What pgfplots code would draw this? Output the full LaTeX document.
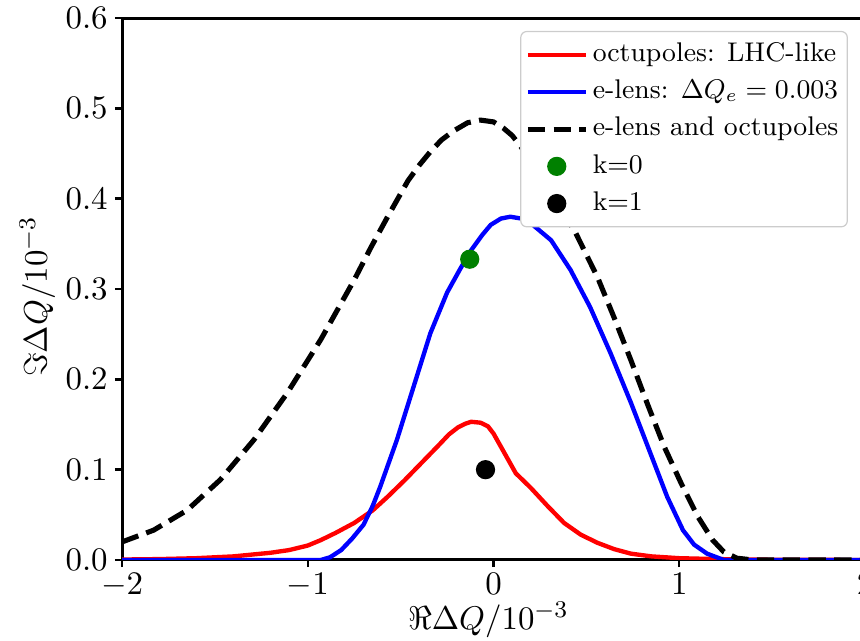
\documentclass[border=0pt]{standalone}
\usepackage{fontspec}
\usepackage{pgfplots}
\pgfplotsset{compat=1.18}
\definecolor{mplgreen}{HTML}{008000}
\begin{document}
\begin{tikzpicture}
\begin{axis}[
  at={(0,0)}, anchor=south west,
  scale only axis, width=247.67pt, height=180.67pt,
  xmin=-2, xmax=2, ymin=0, ymax=0.6,
  xtick={-2,-1,0,1,2},
  ytick={0,0.1,0.2,0.3,0.4,0.5,0.6},
  yticklabel style={/pgf/number format/.cd, fixed, fixed zerofill, precision=1, /tikz/.cd, inner xsep=2.2pt},
  xticklabel style={inner ysep=2pt},
  tick pos=left, tick align=outside, major tick length=2.4pt,
  tick style={black, line width=0.8pt},
  axis line style={line width=1pt},
  ticklabel style={font=\fontsize{10.6}{12.5}\selectfont},
  label style={font=\fontsize{10.8}{12.5}\selectfont},
  xlabel={$\Re\Delta Q/10^{-3}$},
  ylabel={$\Im\Delta Q/10^{-3}$},
  xlabel style={at={(axis description cs:0.493,-0.129)}, anchor=base},
  ylabel style={at={(axis description cs:-0.101,0.486)}, anchor=base},
  legend image code/.code={\draw[mark repeat=2,mark phase=2,#1] plot coordinates {(0pt,0pt) (9.65pt,0pt) (19.3pt,0pt)};},
  legend cell align=left,
  legend style={at={(1,1)}, anchor=north east, xshift=-5.7pt, yshift=-4.3pt,
    draw=black!20, rounded corners=2pt, fill=white,
    font=\fontsize{9}{10.5}\selectfont,
    inner xsep=1.5pt, inner ysep=2pt,
    nodes={inner sep=1.5pt, text height=6.5pt, text depth=2pt},
    row sep=0.9pt,
    /tikz/every even column/.append style={column sep=3.3pt}},
]
\addplot[red, line width=1.45pt] coordinates {
(-2.0,0.0005) (-1.8,0.001) (-1.6,0.002) (-1.4,0.004) (-1.2,0.008) (-1.1,0.011)
(-1.0,0.016) (-0.93,0.022) (-0.85,0.030) (-0.75,0.041) (-0.65,0.055) (-0.57,0.070)
(-0.48,0.088) (-0.39,0.107) (-0.30,0.126) (-0.24,0.139) (-0.19,0.147) (-0.15,0.151) (-0.12,0.153)
(-0.07,0.152) (-0.03,0.148) (0.0,0.140) (0.06,0.118) (0.12,0.096) (0.20,0.080)
(0.29,0.060) (0.38,0.041) (0.47,0.028) (0.56,0.019) (0.65,0.012) (0.74,0.007)
(0.85,0.004) (1.0,0.002) (1.2,0.001) (1.5,0.0003) (2.0,0.0)
};
\addlegendentry{octupoles: LHC-like}
\addplot[blue, line width=1.45pt] coordinates {
(-2.0,0) (-0.93,0) (-0.88,0.003) (-0.82,0.011) (-0.76,0.024) (-0.70,0.039)
(-0.65,0.060) (-0.61,0.081) (-0.52,0.133) (-0.43,0.192) (-0.34,0.251) (-0.25,0.296)
(-0.18,0.322) (-0.12,0.343) (-0.06,0.360) (-0.015,0.371) (0.04,0.378) (0.09,0.380)
(0.15,0.378) (0.20,0.373) (0.31,0.354) (0.415,0.321) (0.52,0.280) (0.63,0.229)
(0.74,0.174) (0.845,0.118) (0.935,0.070) (1.02,0.033) (1.08,0.017) (1.15,0.007)
(1.24,0.0) (2.0,0.0)
};
\addlegendentry{e-lens: $\Delta Q_e = 0.003$}
\addplot[black, line width=1.7pt, dash pattern=on 5.8pt off 2.8pt] coordinates {
(-2.0,0.020) (-1.83,0.033) (-1.65,0.055) (-1.47,0.089) (-1.29,0.133) (-1.11,0.185)
(-0.93,0.244) (-0.75,0.310) (-0.66,0.346) (-0.57,0.380) (-0.46,0.420) (-0.40,0.437)
(-0.34,0.452) (-0.28,0.465) (-0.215,0.475) (-0.14,0.484) (-0.07,0.487) (0.0,0.485)
(0.054,0.478) (0.10,0.470) (0.135,0.461) (0.20,0.443) (0.30,0.410) (0.44,0.363) (0.56,0.313)
(0.65,0.268) (0.74,0.221) (0.83,0.172) (0.92,0.125) (1.01,0.085) (1.10,0.048) (1.18,0.022) (1.24,0.009)
(1.31,0.002) (1.40,0.0) (2.0,0.0)
};
\addlegendentry{e-lens and octupoles}
\addplot[only marks, mark=*, mark size=3pt, mplgreen, mark options={draw=mplgreen, fill=mplgreen}] coordinates {(-0.128,0.333)};
\addlegendentry{k=0}
\addplot[only marks, mark=*, mark size=3pt, black, mark options={draw=black, fill=black}] coordinates {(-0.043,0.100)};
\addlegendentry{k=1}
\end{axis}
\pgfresetboundingbox
\useasboundingbox (-40.67pt,-27pt) rectangle (246pt,186.67pt);
\end{tikzpicture}
\end{document}
